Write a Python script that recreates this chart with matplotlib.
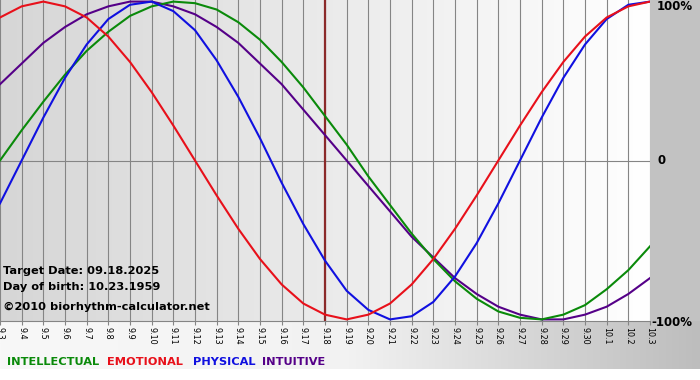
import numpy as np
import matplotlib
matplotlib.use("Agg")
import matplotlib.pyplot as plt

# fechas (eje x) y valores de los biorritmos
dias = ['9.3', '9.4', '9.5', '9.6', '9.7', '9.8', '9.9', '9.10', '9.11', '9.12',
        '9.13', '9.14', '9.15', '9.16', '9.17', '9.18', '9.19', '9.20', '9.21', '9.22',
        '9.23', '9.24', '9.25', '9.26', '9.27', '9.28', '9.29', '9.30', '10.1', '10.2', '10.3']

intelectual = [0.00, 0.19, 0.37, 0.54, 0.69, 0.81, 0.91, 0.97, 1.00, 0.99,
               0.95, 0.87, 0.76, 0.62, 0.46, 0.28, 0.10, -0.10, -0.28, -0.46,
               -0.62, -0.76, -0.87, -0.95, -0.99, -1.00, -0.97, -0.91, -0.81, -0.69, -0.54]
emocional = [0.90, 0.97, 1.00, 0.97, 0.90, 0.78, 0.62, 0.43, 0.22, 0.00,
             -0.22, -0.43, -0.62, -0.78, -0.90, -0.97, -1.00, -0.97, -0.90, -0.78,
             -0.62, -0.43, -0.22, 0.00, 0.22, 0.43, 0.62, 0.78, 0.90, 0.97, 1.00]
fisico = [-0.27, 0.00, 0.27, 0.52, 0.73, 0.89, 0.98, 1.00, 0.94, 0.82,
          0.63, 0.40, 0.14, -0.14, -0.40, -0.63, -0.82, -0.94, -1.00, -0.98,
          -0.89, -0.73, -0.52, -0.27, 0.00, 0.27, 0.52, 0.73, 0.89, 0.98, 1.00]
intuitivo = [0.48, 0.61, 0.74, 0.84, 0.92, 0.97, 1.00, 1.00, 0.97, 0.92,
             0.84, 0.74, 0.61, 0.48, 0.32, 0.16, 0.00, -0.16, -0.32, -0.48,
             -0.61, -0.74, -0.84, -0.92, -0.97, -1.00, -1.00, -0.97, -0.92, -0.84, -0.74]

dia_objetivo = '9.18'
nombres = ['INTELLECTUAL', 'EMOTIONAL', 'PHYSICAL', 'INTUITIVE']
colores = ['#0a8a0a', '#e8101a', '#1010e0', '#550088']

W, H = 700, 380
fig = plt.figure(figsize=(7, 3.8), dpi=100)

# fondo en coordenadas de pixel
bg = fig.add_axes([0, 0, 1, 1])
bg.set_xlim(0, W)
bg.set_ylim(H, 0)
bg.axis('off')
bg.add_patch(plt.Rectangle((0, 0), W, H, color='white', zorder=0))
bg.add_patch(plt.Rectangle((650, 0), 50, 322, color='#c2c2c2', zorder=1))
grad = np.linspace(0, 1, 256).reshape(1, -1)
bg.imshow(grad, extent=(0, W, 369, 321), aspect='auto', zorder=1,
          cmap=matplotlib.colors.LinearSegmentedColormap.from_list('g', ['#f8f8f8', '#f2f2f2', '#bdbdbd']))

x = np.arange(len(dias))
ax = fig.add_axes([0, 1 - 321 / H, 650 / W, 321 / H])
ax.set_facecolor('none')
ax.imshow(grad, extent=(0, len(dias) - 1, -1.01, 1.01), aspect='auto', zorder=0,
          cmap=matplotlib.colors.LinearSegmentedColormap.from_list('p', ['#d6d6d6', '#ffffff']))

for xi in x:
    ax.axvline(xi, color='#858585', lw=0.8, zorder=1)
ax.axhline(0, color='#858585', lw=0.8, zorder=1)
ax.axvline(dias.index(dia_objetivo), color='#8b2a2a', lw=1.6, zorder=2)

for serie, c in zip([intuitivo, intelectual, fisico, emocional], [colores[3], colores[0], colores[2], colores[1]]):
    ax.plot(x, serie, color=c, lw=1.5, zorder=3)

ax.set_xlim(0, len(dias) - 1)
ax.set_ylim(-1.01, 1.01)
ax.set_yticks([])
ax.set_xticks(x)
ax.set_xticklabels(dias, rotation=-90, fontsize=5.8)
ax.tick_params(axis='x', length=3, color='#858585', pad=1)
for s in ['top', 'left', 'right']:
    ax.spines[s].set_visible(False)
ax.spines['bottom'].set_color('#858585')
ax.spines['bottom'].set_linewidth(0.8)

# capa de textos encima de todo
tx = fig.add_axes([0, 0, 1, 1])
tx.set_xlim(0, W)
tx.set_ylim(H, 0)
tx.axis('off')
tx.patch.set_alpha(0)

# etiquetas de la derecha
tx.text(657, 7, '100%', fontsize=8.5, fontweight='bold', va='center', ha='left')
tx.text(658, 161, '0', fontsize=8.5, fontweight='bold', va='center', ha='left')
tx.text(651, 322, '-100%', fontsize=8.5, fontweight='bold', va='center', ha='left')

# textos informativos
tx.text(3, 271, 'Target Date: 09.18.2025', fontsize=8.2, fontweight='bold', va='center')
tx.text(3, 287, 'Day of birth: 10.23.1959', fontsize=8.2, fontweight='bold', va='center')
tx.text(3, 307, '\u00a92010 biorhythm-calculator.net', fontsize=8.2, fontweight='bold', va='center')

# leyenda
for nombre, c, px in zip(nombres, colores, [7, 107, 193, 262]):
    tx.text(px, 362, nombre, fontsize=8.2, fontweight='bold', color=c, va='center')

fig.savefig('out.png', dpi=100)
